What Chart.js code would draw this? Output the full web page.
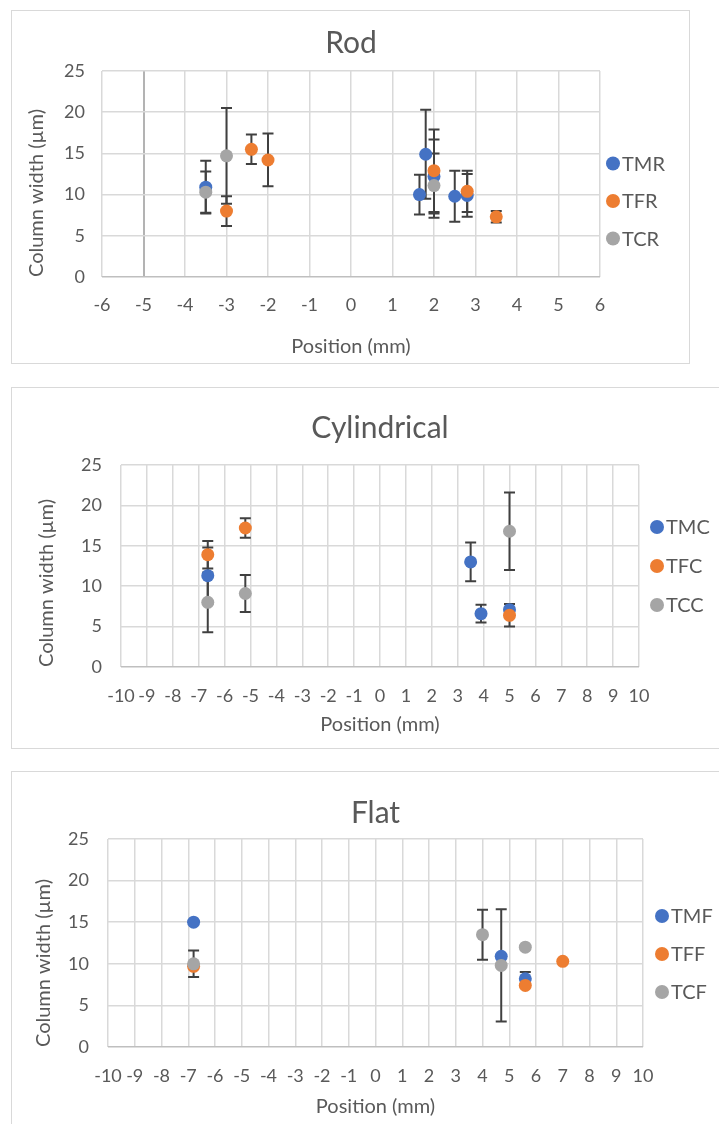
<!DOCTYPE html>
<html>
<head>
<meta charset="utf-8">
<title>Column width vs position</title>
<script src="https://cdn.jsdelivr.net/npm/chart.js@4.4.1/dist/chart.umd.min.js"></script>
<style>
  body { margin: 0; background: #fff; overflow: hidden; width: 719px; height: 1124px; position: relative; }
  .panel { position: absolute; border: 1px solid #d9d9d9; background: #fff; }
  .panel canvas { display: block; }
</style>
</head>
<body>
<div class="panel" style="left:11px;top:10px;"><canvas id="rod" width="677" height="352"></canvas></div>
<div class="panel" style="left:11px;top:387px;"><canvas id="cyl" width="720" height="360"></canvas></div>
<div class="panel" style="left:11px;top:771px;"><canvas id="flat" width="720" height="370"></canvas></div>

<script>
// axis ticks
const rodTicksX = [-6, -5, -4, -3, -2, -1, 0, 1, 2, 3, 4, 5, 6];
const wideTicksX = [-10, -9, -8, -7, -6, -5, -4, -3, -2, -1, 0, 1, 2, 3, 4, 5, 6, 7, 8, 9, 10];
const widthTicksY = [0, 5, 10, 15, 20, 25];

// Rod
const tmrX = [-3.5, 1.65, 1.8, 2.0, 2.5, 2.8];
const tmrY = [10.9, 10.0, 14.9, 12.2, 9.8, 9.9];
const tmrErr = [3.2, 2.4, 5.4, 4.5, 3.1, 2.6];
const tfrX = [-3.0, -2.4, -2.0, 2.0, 2.8, 3.5];
const tfrY = [8.0, 15.5, 14.2, 12.9, 10.4, 7.3];
const tfrErr = [1.8, 1.8, 3.2, 5.0, 2.5, 0.7];
const tcrX = [-3.5, -3.0, 2.0];
const tcrY = [10.3, 14.7, 11.1];
const tcrErr = [2.5, 5.8, 3.9];

// Cylindrical
const tmcX = [-6.65, 3.5, 3.9, 5.0];
const tmcY = [11.3, 13.0, 6.6, 7.1];
const tmcErr = [3.5, 2.4, 1.1, 0.7];
const tfcX = [-6.65, -5.2, 5.0];
const tfcY = [13.9, 17.2, 6.4];
const tfcErr = [1.7, 1.2, 1.4];
const tccX = [-6.65, -5.2, 5.0];
const tccY = [8.0, 9.1, 16.8];
const tccErr = [3.7, 2.3, 4.8];

// Flat
const tmfX = [-6.8, 4.7, 5.6];
const tmfY = [15.0, 10.9, 8.2];
const tmfErr = [0, 0, 0.8];
const tffX = [-6.8, 5.6, 7.0];
const tffY = [9.7, 7.4, 10.3];
const tffErr = [0, 0, 0];
const tcfX = [-6.8, 4.0, 4.7, 5.6];
const tcfY = [10.0, 13.5, 9.8, 12.0];
const tcfErr = [1.6, 3.0, 6.75, 0];

const BLUE = '#4472C4', ORANGE = '#ED7D31', GREY = '#A5A5A5';
const TEXT = '#595959';

Chart.defaults.font.family = 'Lato';
Chart.defaults.color = TEXT;

// vertical +/- error bars, drawn under the markers
const errorBars = {
  id: 'errorBars',
  beforeDatasetsDraw(chart) {
    const { ctx, scales: { x, y } } = chart;
    ctx.save();
    ctx.strokeStyle = '#404040';
    ctx.lineWidth = 2;
    chart.data.datasets.forEach(ds => {
      ds.data.forEach((p, j) => {
        const e = ds.errors[j];
        if (!e) return;
        const px = x.getPixelForValue(p.x);
        const top = y.getPixelForValue(p.y + e);
        const bot = y.getPixelForValue(p.y - e);
        ctx.beginPath();
        ctx.moveTo(px, top); ctx.lineTo(px, bot);
        ctx.moveTo(px - 5.5, top); ctx.lineTo(px + 5.5, top);
        ctx.moveTo(px - 5.5, bot); ctx.lineTo(px + 5.5, bot);
        ctx.stroke();
      });
    });
    ctx.restore();
  }
};

// excel style legend to the right of the plot
const sideLegend = {
  id: 'sideLegend',
  afterDraw(chart, args, opts) {
    const { ctx, chartArea } = chart;
    const n = chart.data.datasets.length;
    const cx = chartArea.right + opts.gap;
    ctx.save();
    ctx.font = '20px Lato';
    ctx.textBaseline = 'middle';
    chart.data.datasets.forEach((ds, i) => {
      const cy = chartArea.top + opts.mid + (i - (n - 1) / 2) * opts.step;
      ctx.fillStyle = ds.backgroundColor;
      ctx.beginPath();
      ctx.arc(cx, cy, 7, 0, Math.PI * 2);
      ctx.fill();
      ctx.fillStyle = TEXT;
      ctx.fillText(ds.label, cx + 9, cy + 1);
    });
    ctx.restore();
  }
};

function series(label, xs, ys, errs, color, order) {
  return {
    label,
    data: xs.map((x, i) => ({ x, y: ys[i] })),
    errors: errs,
    backgroundColor: color,
    borderColor: color,
    pointRadius: 6.5,
    pointHoverRadius: 6.5,
    borderWidth: 0,
    order
  };
}

function makeChart(id, title, datasets, xTicks, lay) {
  const canvas = document.getElementById(id);
  const W = canvas.width, H = canvas.height;
  const titleLH = 36, axisLH = 24;
  const titleTop = lay.titleY - titleLH / 2;

  return new Chart(canvas, {
    type: 'scatter',
    data: { datasets },
    plugins: [errorBars, sideLegend],
    options: {
      responsive: false,
      animation: false,
      devicePixelRatio: 1,
      layout: { padding: { left: 0, top: 0, right: W - lay.areaR, bottom: 0 } },
      plugins: {
        legend: { display: false },
        tooltip: { enabled: false },
        title: {
          display: true,
          text: title,
          fullSize: false,
          color: TEXT,
          font: { size: 30, weight: 'normal' },
          padding: { top: titleTop, bottom: lay.areaT - titleTop - titleLH }
        },
        sideLegend: { gap: lay.legendGap, mid: lay.legendMid, step: lay.legendStep }
      },
      scales: {
        x: {
          type: 'linear',
          min: xTicks[0],
          max: xTicks[xTicks.length - 1],
          afterBuildTicks: s => { s.ticks = xTicks.map(v => ({ value: v })); },
          afterFit: s => { s.height = H - lay.areaB; },
          ticks: {
            autoSkip: false, maxRotation: 0, minRotation: 0,
            padding: lay.tickY - lay.areaB - 10.8,
            font: { size: 18 }, color: TEXT,
            callback: v => String(v)
          },
          grid: {
            color: c => (c.tick && c.tick.value === lay.axisX) ? '#b3b3b3' : '#d9d9d9',
            lineWidth: c => (c.tick && c.tick.value === lay.axisX) ? 2 : 1.5,
            drawTicks: false
          },
          border: { display: false },
          title: {
            display: true, text: 'Position (mm)', color: TEXT, font: { size: 20 },
            padding: { top: 0, bottom: H - lay.xTitleY - axisLH / 2 }
          }
        },
        y: {
          min: 0,
          max: 25,
          afterBuildTicks: s => { s.ticks = widthTicksY.map(v => ({ value: v })); },
          afterFit: s => { s.width = lay.areaL; },
          ticks: { padding: lay.yTickPad, font: { size: 18 }, color: TEXT },
          grid: {
            color: c => (c.tick && c.tick.value === 0) ? '#bfbfbf' : '#d9d9d9',
            lineWidth: 1.5,
            drawTicks: false
          },
          border: { display: false },
          title: {
            display: true, text: 'Column width (µm)', color: TEXT, font: { size: 20 },
            align: 'start',
            padding: { top: lay.yTitleX - axisLH / 2, bottom: 0 }
          }
        }
      }
    }
  });
}

function draw() {
  makeChart('rod', 'Rod', [
    series('TMR', tmrX, tmrY, tmrErr, BLUE, 3),
    series('TFR', tfrX, tfrY, tfrErr, ORANGE, 2),
    series('TCR', tcrX, tcrY, tcrErr, GREY, 1)
  ], rodTicksX, {
    areaL: 90, areaR: 588, areaT: 60, areaB: 266,
    titleY: 32, tickY: 294, xTitleY: 336, yTitleX: 25, yTickPad: 17,
    axisX: -5, legendGap: 13, legendMid: 130, legendStep: 37.5
  });

  makeChart('cyl', 'Cylindrical', [
    series('TMC', tmcX, tmcY, tmcErr, BLUE, 3),
    series('TFC', tfcX, tfcY, tfcErr, ORANGE, 2),
    series('TCC', tccX, tccY, tccErr, GREY, 1)
  ], wideTicksX, {
    areaL: 109, areaR: 627, areaT: 77, areaB: 279,
    titleY: 40, tickY: 308, xTitleY: 337, yTitleX: 35, yTickPad: 19,
    axisX: null, legendGap: 18, legendMid: 101, legendStep: 39
  });

  makeChart('flat', 'Flat', [
    series('TMF', tmfX, tmfY, tmfErr, BLUE, 3),
    series('TFF', tffX, tffY, tffErr, ORANGE, 2),
    series('TCF', tcfX, tcfY, tcfErr, GREY, 1)
  ], wideTicksX, {
    areaL: 96, areaR: 631, areaT: 67, areaB: 275,
    titleY: 41, tickY: 304, xTitleY: 335, yTitleX: 32, yTickPad: 19,
    axisX: null, legendGap: 19, legendMid: 115, legendStep: 38
  });
}

document.fonts.load('20px Lato').then(draw, draw);
</script>
</body>
</html>
